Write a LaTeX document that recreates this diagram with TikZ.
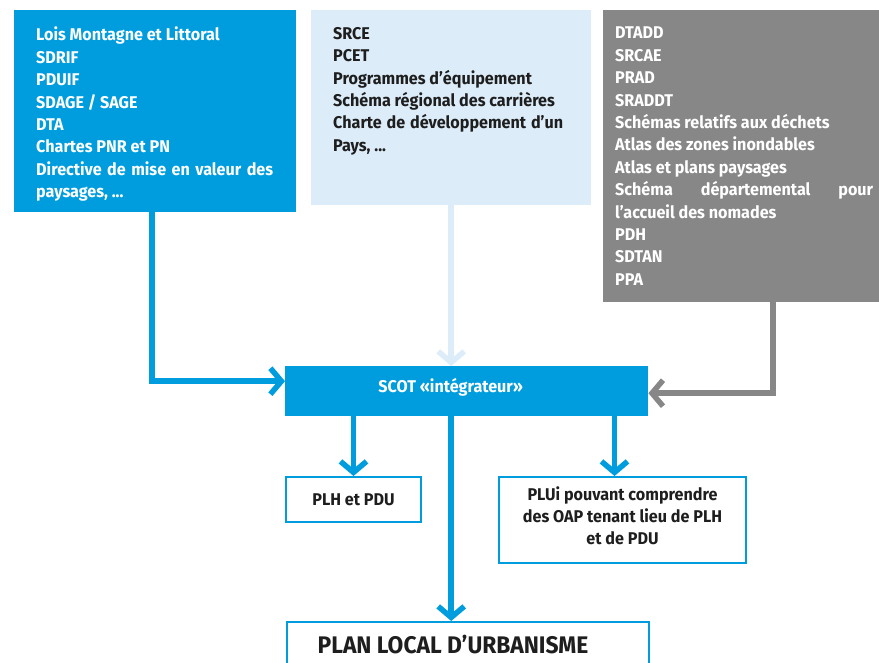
\documentclass[tikz,border=0pt]{standalone}
\usepackage{fontspec}
\setmainfont{Fira Sans}[FakeStretch=0.95]
\usetikzlibrary{arrows.meta,positioning}

\definecolor{scotblue}{HTML}{009DDE}
\definecolor{paleblue}{HTML}{DCEDF9}
\definecolor{darkgrey}{HTML}{878787}
\definecolor{inktext}{HTML}{1E1E1E}

% list text inside the three source boxes
\newcommand{\listbox}[3]{\parbox[t][#1][t]{#2}{\setlength{\parindent}{0pt}\fontsize{17}{22.4}\selectfont #3}}
\newcommand{\spreadline}[2]{\makebox[#1][s]{#2}}

\tikzset{
  srcbox/.style = {rectangle, anchor=north west, inner xsep=22pt, inner ysep=17pt, font=\bfseries},
  outbox/.style = {rectangle, anchor=north west, draw=scotblue, line width=2pt, fill=white,
                   text=inktext, inner sep=0pt, align=center,
                   font=\bfseries\fontsize{17}{22}\selectfont},
  flow/.style = {line width=5.5pt, -{Straight Barb[length=11pt,width=26pt]}},
}

\begin{document}
\begin{tikzpicture}[x=1pt, y=-1pt]
    \useasboundingbox (0,0) rectangle (879,663);

    \node[srcbox, fill=scotblue, text=white] (lois) at (14,10)
        {\listbox{168pt}{238pt}{Lois Montagne et Littoral\\ SDRIF\\ PDUIF\\ SDAGE / SAGE\\ DTA\\
         Chartes PNR et PN\\ \spreadline{237pt}{Directive de mise en valeur des}\\ paysages, ...}};
    \node[srcbox, fill=paleblue, text=inktext] (srce) at (311,10)
        {\listbox{161pt}{236pt}{SRCE\\ PCET\\ Programmes d’équipement\\ Schéma régional des carrières\\
         \spreadline{230pt}{Charte de développement d’un}\\ Pays, ...}};
    \node[srcbox, inner xsep=12pt, fill=darkgrey, text=white] (dtadd) at (603,10)
        {\listbox{258pt}{252pt}{DTADD\\ SRCAE\\ PRAD\\ SRADDT\\ Schémas relatifs aux déchets\\
         Atlas des zones inondables\\ Atlas et plans paysages\\ \spreadline{258pt}{Schéma départemental pour}\\
         l’accueil des nomades\\ PDH\\ SDTAN\\ PPA}};

    \node[rectangle, anchor=north west, fill=scotblue, text=white, inner sep=0pt,
          minimum width=363pt, minimum height=50pt,
          font=\bfseries\fontsize{17}{20}\selectfont] (scot) at (285,366)
        {\hspace*{-32pt}SCOT «intégrateur»\rule[-12pt]{0pt}{1pt}};

    \node[outbox, minimum width=135pt, minimum height=45pt] (plh) at (285,476) {PLH et PDU};
    \node[outbox, minimum width=247pt, minimum height=86pt] (plui) at (498,476)
        {\parbox{240pt}{\centering PLUi pouvant comprendre\\ des OAP tenant lieu de PLH\\ et de PDU\par\vspace*{8pt}}};
    \node[outbox, minimum width=362pt, minimum height=46pt,
          font=\bfseries\fontsize{24}{28}\selectfont] (plu) at (286,621)
        {\hspace*{-30pt}PLAN LOCAL D’URBANISME};

    \coordinate (pluitop) at ([xshift=-8pt]plui.north);

    \draw[flow, scotblue] ([xshift=-3pt]lois.south) |- ([yshift=10pt]scot.west);
    \draw[flow, paleblue] (srce.south) -- (srce.south |- scot.north);
    \draw[flow, darkgrey] ([xshift=32pt]dtadd.south) |- ([yshift=-2pt]scot.east);

    \draw[flow, scotblue] (plh.north |- scot.south) -- (plh.north);
    \draw[flow, scotblue] (srce.south |- scot.south) -- (srce.south |- plu.north);
    \draw[flow, scotblue] (pluitop |- scot.south) -- (pluitop);
\end{tikzpicture}
\end{document}
